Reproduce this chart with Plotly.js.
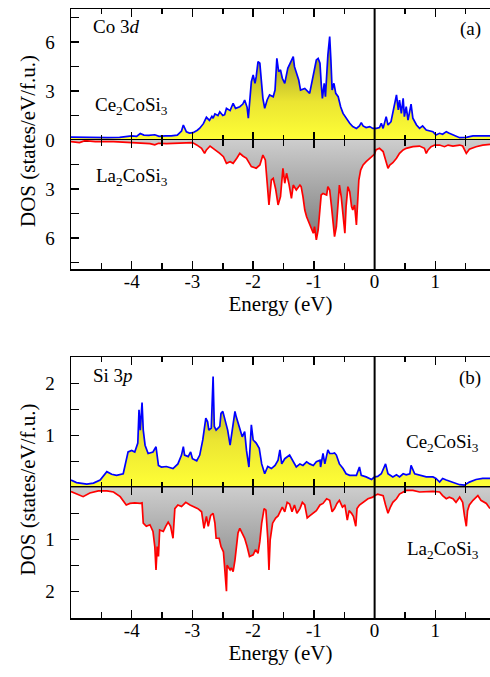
<!DOCTYPE html>
<html>
<head>
<meta charset="utf-8">
<script src="https://cdn.plot.ly/plotly-3.0.1.min.js"></script>
<style>html,body{margin:0;padding:0;background:#fff;}#chart{width:490px;height:677px;}</style>
</head>
<body>
<div id="chart"></div>
<script>
// ---------- Panel (a): Co 3d ----------
const coCeE = [-5.0,-4.8,-4.6,-4.4,-4.2,-4.0,-3.92,-3.86,-3.8,-3.72,-3.62,-3.55,-3.45,-3.35,-3.25,-3.18,-3.15,-3.1,-3.05,-2.99,-2.92,-2.88,-2.82,-2.77,-2.72,-2.68,-2.66,-2.63,-2.58,-2.55,-2.5,-2.47,-2.44,-2.38,-2.33,-2.29,-2.22,-2.17,-2.14,-2.1,-2.08,-2.05,-2.03,-2.0,-1.97,-1.95,-1.92,-1.89,-1.87,-1.84,-1.81,-1.77,-1.73,-1.67,-1.64,-1.61,-1.58,-1.55,-1.52,-1.48,-1.43,-1.37,-1.34,-1.32,-1.28,-1.25,-1.22,-1.15,-1.07,-1.01,-0.99,-0.96,-0.93,-0.90,-0.88,-0.86,-0.83,-0.81,-0.77,-0.74,-0.72,-0.70,-0.67,-0.64,-0.60,-0.56,-0.52,-0.47,-0.41,-0.36,-0.30,-0.25,-0.22,-0.19,-0.14,-0.08,-0.03,0.03,0.08,0.11,0.14,0.19,0.22,0.27,0.30,0.33,0.36,0.39,0.41,0.44,0.47,0.49,0.52,0.55,0.60,0.63,0.69,0.74,0.79,0.85,0.90,0.96,1.01,1.07,1.12,1.18,1.23,1.29,1.40,1.51,1.62,1.73,1.90];
const coCeDos = [0.17,0.15,0.15,0.15,0.16,0.25,0.22,0.4,0.3,0.28,0.32,0.22,0.25,0.25,0.3,0.55,0.92,0.5,0.42,0.45,0.6,0.72,1.0,1.39,1.2,1.45,1.33,1.6,1.5,1.73,1.5,1.55,1.94,1.8,2.25,1.94,2.04,2.2,2.45,2.0,1.33,2.6,3.57,3.98,3.47,3.88,4.8,4.7,3.9,2.55,1.94,2.45,2.76,2.65,3.06,5.0,4.18,4.29,3.78,3.47,4.39,4.8,5.1,4.49,4.08,3.67,3.06,3.16,2.86,3.88,4.39,4.9,5.0,4.7,3.47,2.55,3.47,2.65,5.2,6.33,4.9,3.06,3.47,2.86,2.65,2.04,1.63,1.33,1.02,0.82,0.71,0.86,1.06,0.86,0.76,0.82,0.71,0.71,0.76,1.02,0.71,1.43,0.92,1.12,1.63,2.04,2.76,1.84,2.45,1.63,2.55,1.43,2.04,1.22,2.2,1.33,0.92,0.71,0.86,0.61,0.57,0.51,0.31,0.41,0.35,0.51,0.41,0.31,0.14,0.16,0.25,0.25,0.25];

const coLaE = [-5.0,-4.86,-4.77,-4.6,-4.3,-4.0,-3.86,-3.7,-3.62,-3.56,-3.43,-3.32,-3.15,-3.0,-2.93,-2.85,-2.80,-2.77,-2.71,-2.66,-2.61,-2.55,-2.49,-2.44,-2.38,-2.33,-2.27,-2.22,-2.17,-2.11,-2.03,-1.95,-1.89,-1.84,-1.80,-1.77,-1.74,-1.70,-1.67,-1.63,-1.59,-1.55,-1.51,-1.48,-1.45,-1.41,-1.37,-1.34,-1.29,-1.23,-1.21,-1.18,-1.15,-1.12,-1.08,-1.04,-1.01,-0.99,-0.96,-0.93,-0.90,-0.88,-0.85,-0.79,-0.77,-0.74,-0.71,-0.69,-0.66,-0.63,-0.60,-0.58,-0.55,-0.52,-0.49,-0.47,-0.44,-0.41,-0.38,-0.36,-0.33,-0.30,-0.28,-0.26,-0.23,-0.19,-0.14,-0.08,-0.03,0.0,0.02,0.08,0.14,0.19,0.22,0.25,0.30,0.36,0.41,0.47,0.52,0.63,0.74,0.82,0.85,0.88,0.93,0.99,1.07,1.15,1.21,1.29,1.40,1.45,1.51,1.56,1.67,1.78,1.90];
const coLaDos = [-0.1,-0.16,-0.04,-0.1,-0.1,-0.16,-0.2,-0.22,-0.3,-0.2,-0.22,-0.2,-0.16,-0.16,-0.3,-0.51,-0.82,-0.61,-0.37,-0.51,-0.61,-0.82,-1.02,-1.43,-1.33,-1.43,-1.12,-0.82,-0.98,-1.12,-1.63,-1.73,-1.53,-0.92,-1.22,-2.45,-3.98,-2.45,-2.35,-3.0,-3.98,-3.47,-1.73,-2.65,-2.04,-2.7,-3.57,-2.76,-3.06,-2.76,-2.86,-3.47,-4.29,-4.7,-5.1,-5.51,-5.71,-5.31,-6.12,-5.51,-4.29,-3.37,-3.27,-3.37,-2.86,-3.06,-4.08,-4.9,-5.92,-5.31,-3.47,-2.76,-3.47,-4.7,-5.71,-4.08,-2.86,-3.16,-4.08,-4.29,-3.98,-5.2,-3.47,-2.45,-1.84,-1.53,-1.33,-1.12,-0.98,-0.86,-0.61,-0.51,-0.71,-1.43,-1.73,-1.53,-1.39,-1.12,-0.82,-0.61,-0.51,-0.41,-0.37,-0.51,-0.82,-0.61,-0.41,-0.31,-0.31,-0.41,-0.31,-0.37,-0.31,-0.37,-0.82,-0.57,-0.41,-0.31,-0.27];

// ---------- Panel (b): Si 3p ----------
const siCeE = [-5.0,-4.91,-4.74,-4.63,-4.52,-4.41,-4.33,-4.25,-4.14,-4.09,-4.06,-4.0,-3.95,-3.90,-3.88,-3.86,-3.83,-3.81,-3.78,-3.73,-3.65,-3.60,-3.56,-3.51,-3.43,-3.32,-3.24,-3.18,-3.15,-3.13,-3.07,-3.03,-3.0,-2.93,-2.88,-2.83,-2.78,-2.75,-2.73,-2.69,-2.66,-2.64,-2.61,-2.55,-2.53,-2.50,-2.46,-2.42,-2.38,-2.33,-2.30,-2.28,-2.22,-2.18,-2.14,-2.11,-2.07,-2.03,-2.0,-1.95,-1.90,-1.86,-1.81,-1.76,-1.70,-1.64,-1.59,-1.56,-1.53,-1.48,-1.40,-1.34,-1.29,-1.23,-1.18,-1.12,-1.07,-1.01,-0.96,-0.90,-0.89,-0.85,-0.82,-0.77,-0.74,-0.69,-0.66,-0.63,-0.58,-0.52,-0.47,-0.41,-0.30,-0.25,-0.22,-0.14,-0.05,0.0,0.05,0.11,0.18,0.22,0.30,0.36,0.41,0.47,0.52,0.58,0.60,0.66,0.74,0.85,0.96,1.01,1.07,1.12,1.18,1.29,1.40,1.48,1.56,1.67,1.78,1.90];
const siCeDos = [0.14,0.09,0.06,0.08,0.14,0.3,0.25,0.23,0.26,0.49,0.68,0.71,0.68,0.85,1.49,1.1,1.63,1.1,0.81,0.65,0.68,0.78,0.42,0.39,0.4,0.36,0.45,0.62,0.78,0.62,0.59,0.68,0.55,0.51,0.62,0.91,1.33,1.26,1.1,1.14,2.13,1.17,1.1,1.17,1.42,1.46,1.26,1.1,0.81,1.23,1.46,1.36,1.14,0.97,1.07,0.71,0.39,1.2,0.91,0.85,0.75,0.45,0.26,0.4,0.36,0.42,0.52,0.72,0.45,0.55,0.62,0.49,0.39,0.45,0.42,0.49,0.45,0.42,0.49,0.52,0.39,0.65,0.45,0.72,0.65,0.65,0.66,0.62,0.45,0.36,0.26,0.23,0.23,0.39,0.23,0.2,0.15,0.2,0.21,0.26,0.45,0.26,0.2,0.24,0.2,0.26,0.24,0.26,0.42,0.26,0.23,0.2,0.2,0.17,0.1,0.17,0.14,0.1,0.05,0.04,0.1,0.15,0.17,0.17];

const siLaE = [-5.0,-4.91,-4.80,-4.69,-4.55,-4.41,-4.30,-4.19,-4.09,-4.03,-3.95,-3.86,-3.83,-3.81,-3.76,-3.70,-3.65,-3.62,-3.60,-3.58,-3.56,-3.54,-3.48,-3.44,-3.40,-3.36,-3.32,-3.29,-3.24,-3.18,-3.11,-3.04,-2.99,-2.91,-2.85,-2.81,-2.77,-2.74,-2.70,-2.66,-2.63,-2.61,-2.56,-2.53,-2.49,-2.44,-2.43,-2.38,-2.36,-2.33,-2.30,-2.27,-2.25,-2.22,-2.18,-2.14,-2.10,-2.06,-2.00,-1.96,-1.92,-1.89,-1.86,-1.82,-1.79,-1.76,-1.74,-1.72,-1.68,-1.63,-1.59,-1.55,-1.52,-1.48,-1.44,-1.40,-1.36,-1.32,-1.28,-1.23,-1.19,-1.15,-1.11,-1.07,-1.01,-0.96,-0.90,-0.85,-0.79,-0.74,-0.70,-0.66,-0.62,-0.58,-0.53,-0.49,-0.45,-0.42,-0.38,-0.35,-0.31,-0.29,-0.25,-0.19,-0.11,-0.03,0.0,0.05,0.14,0.18,0.22,0.26,0.30,0.36,0.41,0.52,0.63,0.74,0.85,0.96,1.07,1.12,1.18,1.23,1.29,1.34,1.40,1.45,1.48,1.51,1.53,1.56,1.62,1.70,1.75,1.84,1.90];
const siLaDos = [-0.08,-0.12,-0.18,-0.11,-0.07,-0.07,-0.09,-0.18,-0.34,-0.31,-0.3,-0.31,-0.3,-0.69,-0.75,-0.72,-0.85,-1.14,-1.59,-1.14,-1.33,-0.82,-0.85,-0.75,-0.67,-0.75,-0.98,-0.41,-0.34,-0.37,-0.29,-0.34,-0.37,-0.41,-0.47,-0.79,-0.56,-0.75,-0.54,-0.5,-0.69,-0.98,-0.98,-1.14,-1.24,-2.0,-1.5,-1.59,-1.55,-1.62,-1.4,-1.11,-0.88,-0.79,-0.88,-0.98,-1.14,-1.33,-1.3,-1.2,-1.27,-1.04,-0.69,-0.41,-0.44,-0.98,-1.59,-1.01,-0.69,-0.59,-0.55,-0.45,-0.38,-0.47,-0.29,-0.32,-0.47,-0.34,-0.5,-0.41,-0.29,-0.34,-0.59,-0.55,-0.5,-0.45,-0.34,-0.31,-0.22,-0.25,-0.47,-0.41,-0.31,-0.25,-0.38,-0.34,-0.63,-0.45,-0.5,-0.56,-0.75,-0.41,-0.34,-0.29,-0.22,-0.19,-0.16,-0.13,-0.16,-0.34,-0.5,-0.38,-0.29,-0.22,-0.13,-0.06,-0.06,-0.09,-0.08,-0.08,-0.09,-0.16,-0.22,-0.19,-0.22,-0.29,-0.19,-0.29,-0.55,-0.75,-0.45,-0.34,-0.25,-0.16,-0.25,-0.31,-0.41];

// tick labels
const xMajor = [-4,-3,-2,-1,0,1];
const xMajorText = ['-4','-3','-2','-1','0','1'];
const xMinor = [-4.5,-3.5,-2.5,-1.5,-0.5,0.5,1.5];
const yUpA = [0,3,6],   yUpAText = ['0','3','6'],  yUpAMinor = [1.5,4.5,7.5];
const yDnA = [-6,-3],   yDnAText = ['6','3'],      yDnAMinor = [-7.5,-4.5,-1.5];
const yUpB = [1,2],     yUpBText = ['1','2'],      yUpBMinor = [0.5,1.5,2.5];
const yDnB = [-2,-1],   yDnBText = ['2','1'],      yDnBMinor = [-2.5,-1.5,-0.5];

const W = 490, H = 677, L = 71;
const FONT = "'Liberation Serif', 'Times New Roman', serif";
const px = x => (x - L) / (W - L);
const py = y => 1 - y / H;
const xRange = [-5.0, 1.9];

// panel geometry (pixel rows): frame top, zero line, frame bottom; px per unit
const A = {top: 9, zero: 140, bot: 269, k: 16.33};
const B = {top: 357, zero: 487.3, bot: 618, k: 52.0};

const yellowScale = [[0,'#ffff36'],[0.45,'#ebe532'],[1,'#a39c22']];
const grayScale = [[0,'#cdcdcd'],[1,'#7d7d7d']];

function curve(x, y, color, xa, ya, scale, stop) {
  return {x: x, y: y, type: 'scatter', mode: 'lines', xaxis: xa, yaxis: ya,
    line: {color: color, width: 1.7}, fill: 'tozeroy',
    fillgradient: {type: 'vertical', start: 0, stop: stop, colorscale: scale},
    showlegend: false, hoverinfo: 'skip'};
}

const traces = [
  curve(coCeE, coCeDos, '#0000ff', 'x', 'y', yellowScale, 5.2),
  curve(coLaE, coLaDos, '#ff0000', 'x2', 'y2', grayScale, -6.0),
  curve(siCeE, siCeDos, '#0000ff', 'x3', 'y3', yellowScale, 2.0),
  curve(siLaE, siLaDos, '#ff0000', 'x4', 'y4', grayScale, -2.0),
];

const tickFont = {family: FONT, size: 19, color: '#000'};
const titleFont = {family: FONT, size: 21, color: '#000'};

// upper half: x axis sits on the zero line, ticks pointing up; mirrored to the top frame
function upperX(anchor) {
  return {anchor: anchor, domain: [0, 1], range: xRange, showline: true, linecolor: '#000', linewidth: 1.5,
    mirror: 'ticks', ticks: 'inside', ticklen: 8, tickwidth: 1.5, tickcolor: '#000', layer: 'above traces',
    tickmode: 'array', tickvals: xMajor, showticklabels: false, showgrid: false, zeroline: false,
    minor: {ticks: 'inside', tickmode: 'array', tickvals: xMinor, ticklen: 5, tickwidth: 1.5, tickcolor: '#000'}};
}
// lower half: x axis is the bottom frame with labels; mirrored ticks on the zero line point down
function lowerX(anchor) {
  return {anchor: anchor, domain: [0, 1], range: xRange, showline: true, linecolor: '#000', linewidth: 1.5,
    mirror: 'ticks', ticks: 'inside', ticklen: 8, tickwidth: 1.5, tickcolor: '#000', layer: 'above traces',
    tickmode: 'array', tickvals: xMajor, ticktext: xMajorText, showgrid: false, zeroline: false,
    minor: {ticks: 'inside', tickmode: 'array', tickvals: xMinor, ticklen: 6, tickwidth: 1.5, tickcolor: '#000'},
    tickfont: tickFont, ticklabelstandoff: -5,
    title: {text: 'Energy (eV)', font: titleFont, standoff: 0}};
}
function halfY(anchor, dom, r, vals, text, minorVals) {
  return {anchor: anchor, domain: dom, range: r, showline: true, linecolor: '#000', linewidth: 1.5, mirror: false,
    ticks: 'inside', ticklen: 8, tickwidth: 1.5, tickcolor: '#000', tickmode: 'array', tickvals: vals, ticktext: text,
    minor: {ticks: 'inside', tickmode: 'array', tickvals: minorVals, ticklen: 8, tickwidth: 1.5, tickcolor: '#000'},
    showgrid: false, zeroline: false, tickfont: tickFont, ticklabelstandoff: 11};
}

const ann = (text, x, y, xanchor) => ({text: text, xref: 'paper', yref: 'paper', x: px(x), y: py(y), xanchor: xanchor, yanchor: 'middle', showarrow: false, font: {family: FONT, size: 19, color: '#000'}});
const yTitle = (P) => ({text: 'DOS (states/eV/f.u.)', textangle: -90, xref: 'paper', yref: 'paper', x: px(28), y: py((P.top + P.bot) / 2 + 2), xanchor: 'center', yanchor: 'middle', showarrow: false, font: titleFont});

const layout = {
  width: W, height: H, margin: {l: L, r: 0, t: 0, b: 0}, paper_bgcolor: '#fff', plot_bgcolor: 'rgba(0,0,0,0)',
  showlegend: false, font: {family: FONT, color: '#000'},
  xaxis: upperX('y'),
  yaxis: halfY('x', [py(A.zero), py(A.top)], [0, (A.zero - A.top) / A.k], yUpA, yUpAText, yUpAMinor),
  xaxis2: lowerX('y2'),
  yaxis2: halfY('x2', [py(A.bot), py(A.zero)], [-(A.bot - A.zero) / A.k, 0], yDnA, yDnAText, yDnAMinor),
  xaxis3: upperX('y3'),
  yaxis3: halfY('x3', [py(B.zero), py(B.top)], [0, (B.zero - B.top) / B.k], yUpB, yUpBText, yUpBMinor),
  xaxis4: lowerX('y4'),
  yaxis4: halfY('x4', [py(B.bot), py(B.zero)], [-(B.bot - B.zero) / B.k, 0], yDnB, yDnBText, yDnBMinor),
  shapes: [
    {type: 'line', xref: 'x', yref: 'paper', x0: 0, x1: 0, y0: py(A.bot), y1: py(A.top), line: {color: '#000', width: 2}},
    {type: 'line', xref: 'x3', yref: 'paper', x0: 0, x1: 0, y0: py(B.bot), y1: py(B.top), line: {color: '#000', width: 2}}
  ],
  annotations: [
    yTitle(A), yTitle(B),
    ann('Co 3<i>d</i>', 91, 26, 'left'),
    ann('(a)', 483, 29, 'right'),
    ann('Ce<sub>2</sub>CoSi<sub>3</sub>', 93, 106, 'left'),
    ann('La<sub>2</sub>CoSi<sub>3</sub>', 94, 177, 'left'),
    ann('Si 3<i>p</i>', 91, 375, 'left'),
    ann('(b)', 483, 378, 'right'),
    ann('Ce<sub>2</sub>CoSi<sub>3</sub>', 404, 443, 'left'),
    ann('La<sub>2</sub>CoSi<sub>3</sub>', 405, 550, 'left')
  ]
};

Plotly.newPlot('chart', traces, layout, {displayModeBar: false, staticPlot: true});
</script>
</body>
</html>
